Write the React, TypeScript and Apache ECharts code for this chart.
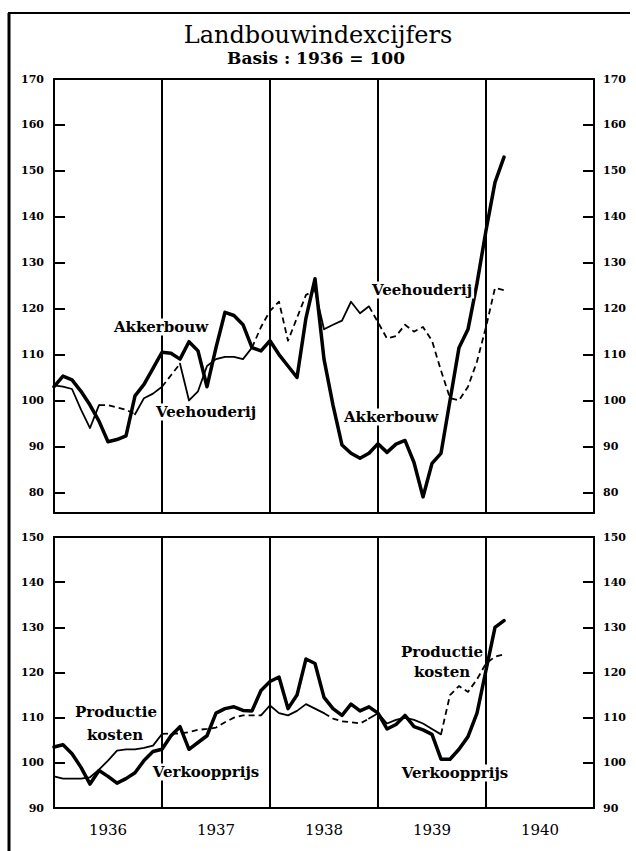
import React, { useEffect, useRef } from "react";
import * as echarts from "echarts";

// months since January 1936 (0 = Jan 1936)
const months = Array.from({ length: 51 }, (_, i) => i);
const yearLabels = ["1936", "1937", "1938", "1939", "1940"];
const yearBoundaries = [12, 24, 36, 48];

const akkerbouw = [
  103, 105.3, 104.5, 102, 99, 95.5, 91, 91.5, 92.3, 101, 103.5, 107,
  110.5, 110.3, 109, 112.8, 110.8, 103, 111.5, 119.2, 118.5, 116.5, 111.5, 110.8,
  113, 110, 107.5, 105, 118, 126.5, 109, 99, 90.3, 88.5, 87.4, 88.5,
  90.6, 88.7, 90.5, 91.3, 86.5, 79, 86.3, 88.5, 100, 111.5, 115.5, 125.5,
  137, 147.5, 153,
];
const veehouderij = [
  103.3, 103, 102.5, 98, 94, 99, 99, 98.5, 98, 97, 100.5, 101.5,
  103, 105.5, 108, 100, 102, 107.5, 109, 109.5, 109.5, 109, 111.5, 116,
  119.5, 121.5, 113, 118, 123, 124, 115.5, 116.5, 117.4, 121.5, 119, 120.5,
  117, 113.5, 114, 116.5, 115, 116, 113, 106.5, 100.5, 100, 103, 108.5,
  116, 124.5, 124,
];
const verkoopprijs = [
  103.5, 104, 102, 99, 95.3, 98.3, 97, 95.5, 96.5, 97.8, 100.5, 102.5,
  103, 106, 108, 103, 104.5, 106, 111, 112, 112.4, 111.6, 111.5, 116,
  118, 119, 112, 115, 123, 122, 114.5, 112, 110.5, 113, 111.5, 112.4,
  111, 107.5, 108.5, 110.5, 108, 107.3, 106.3, 100.8, 100.8, 103, 105.8, 111,
  120.5, 130, 131.5,
];
const productiekosten = [
  97, 96.5, 96.5, 96.5, 96.8, 98.5, 100.5, 102.7, 103, 103, 103.3, 103.8,
  106.4, 106.5, 106.5, 106.8, 107.3, 107.5, 107.8, 109, 110, 110.5, 110.5, 110.5,
  112.7, 111, 110.5, 111.5, 113, 112, 111, 109.8, 109.2, 109, 108.7, 109.8,
  111, 108.7, 109.5, 110, 109.5, 108.7, 107.5, 106.3, 115, 117, 115.7, 118.5,
  122, 123.5, 124,
];

// month ranges drawn dashed
const veeDashed = [[5, 9], [12, 14], [22, 29], [35, 50]];
const prodDashed = [[12, 23], [30, 35], [43, 50]];

const topLabels = [80, 90, 100, 110, 120, 130, 140, 150, 160, 170];
const topTicks = [80, 90, 100, 110, 120, 130, 140, 150, 160];
const bottomLabels = [90, 100, 110, 120, 130, 140, 150];
const bottomTicks = [100, 110, 120, 130, 140];

const SERIF = "DejaVu Serif";

function inRanges(i: number, ranges: number[][]) {
  return ranges.some(([a, b]) => i >= a && i <= b);
}
function onBoundary(i: number, ranges: number[][]) {
  return ranges.some(([a, b]) => i === a || i === b);
}
function pairs(values: number[]) {
  return months.map((m, i) => [m, values[i]]);
}
function dashedPart(values: number[], ranges: number[][]) {
  return months.map((m, i) => [m, inRanges(i, ranges) ? values[i] : null]);
}
function solidPart(values: number[], ranges: number[][]) {
  return months.map((m, i) => [
    m,
    !inRanges(i, ranges) || onBoundary(i, ranges) ? values[i] : null,
  ]);
}

function yAxes(gridIndex: number, min: number, max: number, labels: number[], ticks: number[]) {
  return ["left", "right"].map((pos) => ({
    type: "value",
    gridIndex,
    position: pos,
    min,
    max,
    axisLine: { show: false },
    splitLine: { show: false },
    axisTick: {
      show: true,
      inside: true,
      length: 11,
      customValues: ticks,
      lineStyle: { color: "#000", width: 2 },
    },
    axisLabel: {
      show: true,
      customValues: labels,
      margin: pos === "left" ? 10 : 9,
      color: "#000",
      fontFamily: SERIF,
      fontWeight: "bold",
      fontSize: 11,
    },
  }));
}

function xAxis(gridIndex: number, showLabels: boolean) {
  return {
    type: "value",
    gridIndex,
    min: 0,
    max: 60,
    interval: 6,
    axisLine: { show: false },
    axisTick: { show: false },
    splitLine: { show: false },
    axisLabel: {
      show: showLabels,
      margin: 14,
      color: "#000",
      fontFamily: SERIF,
      fontSize: 15,
      formatter: (v: number) => (v % 12 === 6 ? yearLabels[(v - 6) / 12] : ""),
    },
  };
}

const yearLines = {
  silent: true,
  symbol: "none",
  label: { show: false },
  lineStyle: { color: "#000", width: 2, type: "solid" },
  data: yearBoundaries.map((x) => ({ xAxis: x })),
};

function label(text: string, x: number, y: number, size = 15) {
  return {
    type: "text",
    x,
    y,
    z: 100,
    style: {
      text,
      fill: "#000",
      font: `bold ${size}px "${SERIF}"`,
      align: "center",
      verticalAlign: "middle",
      backgroundColor: "#fff",
      padding: [1, 2],
    },
  };
}

export default function App() {
  const ref = useRef<HTMLDivElement>(null);
  useEffect(() => {
    if (!ref.current) return;
    const chart = echarts.init(ref.current, null, { renderer: "svg" });
    const thin = { color: "#000", width: 1.8, cap: "round", join: "round" };
    const thinDash = { color: "#000", width: 1.8, type: [6, 4], cap: "butt", join: "round" };
    const thick = { color: "#000", width: 3.5, cap: "round", join: "round" };
    const base = { type: "line", symbol: "none", showSymbol: false, connectNulls: false, silent: true };
    chart.setOption({
      animation: false,
      backgroundColor: "#fff",
      grid: [
        { left: 54, top: 79, width: 540, height: 434, show: true, borderColor: "#000", borderWidth: 2, backgroundColor: "transparent" },
        { left: 54, top: 537, width: 540, height: 271, show: true, borderColor: "#000", borderWidth: 2, backgroundColor: "transparent" },
      ],
      xAxis: [xAxis(0, false), xAxis(1, true)],
      yAxis: [
        ...yAxes(0, 75.5, 170, topLabels, topTicks),
        ...yAxes(1, 90, 150, bottomLabels, bottomTicks),
      ],
      series: [
        { ...base, name: "Veehouderij", xAxisIndex: 0, yAxisIndex: 0, z: 2, lineStyle: thin, data: solidPart(veehouderij, veeDashed), markLine: yearLines },
        { ...base, name: "Veehouderij (stippel)", xAxisIndex: 0, yAxisIndex: 0, z: 3, lineStyle: thinDash, data: dashedPart(veehouderij, veeDashed) },
        { ...base, name: "Akkerbouw", xAxisIndex: 0, yAxisIndex: 0, z: 4, lineStyle: thick, data: pairs(akkerbouw) },
        { ...base, name: "Productiekosten", xAxisIndex: 1, yAxisIndex: 2, z: 2, lineStyle: thin, data: solidPart(productiekosten, prodDashed), markLine: yearLines },
        { ...base, name: "Productiekosten (stippel)", xAxisIndex: 1, yAxisIndex: 2, z: 3, lineStyle: thinDash, data: dashedPart(productiekosten, prodDashed) },
        { ...base, name: "Verkoopprijs", xAxisIndex: 1, yAxisIndex: 2, z: 4, lineStyle: thick, data: pairs(verkoopprijs) },
      ],
      graphic: [
        { type: "line", z: 50, shape: { x1: 9, y1: 13, x2: 9, y2: 851 }, style: { stroke: "#000", lineWidth: 3 } },
        { type: "line", z: 50, shape: { x1: 8, y1: 13, x2: 630, y2: 13 }, style: { stroke: "#000", lineWidth: 2 } },
        {
          type: "text", x: 318, y: 35, z: 100,
          style: { text: "Landbouwindexcijfers", fill: "#000", font: `24px "${SERIF}"`, align: "center", verticalAlign: "middle" },
        },
        {
          type: "text", x: 316, y: 58, z: 100,
          style: { text: "Basis : 1936 = 100", fill: "#000", font: `bold 17px "${SERIF}"`, align: "center", verticalAlign: "middle" },
        },
        label("Akkerbouw", 161, 327),
        label("Veehouderij", 206, 412),
        label("Veehouderij", 422, 290),
        label("Akkerbouw", 391, 417),
        label("Productie", 116, 712),
        label("kosten", 115, 735),
        label("Verkoopprijs", 206, 772),
        label("Productie", 442, 652),
        label("kosten", 442, 672),
        label("Verkoopprijs", 455, 773),
      ],
    });
    return () => chart.dispose();
  }, []);
  return (
    <div
      ref={ref}
      style={{ position: "absolute", left: 0, top: 0, width: 636, height: 851, background: "#fff" }}
    />
  );
}
